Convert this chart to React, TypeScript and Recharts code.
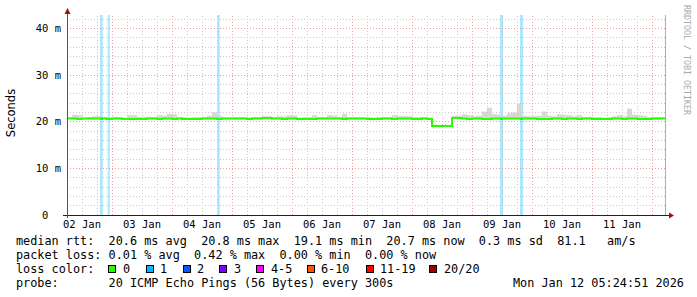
import React from 'react';
import { ComposedChart, Area, Line, XAxis, YAxis, ReferenceLine, ReferenceArea } from 'recharts';

// hours since the left edge of the graph (Jan 02 ~06:00), 2.5 px per hour
const dayLabels = ['02 Jan', '03 Jan', '04 Jan', '05 Jan', '06 Jan', '07 Jan', '08 Jan', '09 Jan', '10 Jan', '11 Jan'];
const labelHours = [6, 30, 54, 78, 102, 126, 150, 174, 198, 222];
const midnightHours = [18, 42, 66, 90, 114, 138, 162, 186, 210, 234];
const yTicks = [0, 10, 20, 30, 40];
const endHour = 239.2;
const yMax = 42.9;

// median rtt per 2 hour bin (ms)
const medianMs = [
  20.7, 20.7, 20.6, 20.7, 20.7, 20.7, 20.7, 20.7, 20.6, 20.7,
  20.7, 20.6, 20.6, 20.6, 20.6, 20.6, 20.7, 20.7, 20.6, 20.7,
  20.7, 20.6, 20.7, 20.6, 20.6, 20.6, 20.6, 20.7, 20.7, 20.7,
  20.6, 20.7, 20.7, 20.7, 20.7, 20.7, 20.6, 20.7, 20.7, 20.8,
  20.8, 20.7, 20.7, 20.6, 20.7, 20.7, 20.6, 20.6, 20.6, 20.6,
  20.7, 20.7, 20.7, 20.7, 20.7, 20.6, 20.7, 20.7, 20.7, 20.7,
  20.6, 20.6, 20.6, 20.7, 20.7, 20.6, 20.7, 20.7, 20.7, 20.6,
  20.6, 20.7, 20.6, 19.1, 19.1, 19.1, 19.1, 20.8, 20.8, 20.7,
  20.6, 20.7, 20.7, 20.6, 20.6, 20.7, 20.7, 20.7, 20.7, 20.7,
  20.7, 20.7, 20.7, 20.7, 20.6, 20.6, 20.6, 20.7, 20.7, 20.6,
  20.7, 20.7, 20.6, 20.7, 20.7, 20.6, 20.6, 20.6, 20.6, 20.7,
  20.7, 20.6, 20.7, 20.7, 20.6, 20.6, 20.6, 20.7, 20.7, 20.7,
];

// top of the smoke (slowest pings) per 2 hour bin (ms)
const smokeTopMs = [
  21.0, 21.5, 21.4, 20.9, 21.0, 21.2, 21.2, 21.0, 20.9, 21.0,
  21.0, 20.9, 21.4, 21.4, 21.1, 21.1, 21.1, 21.0, 21.4, 21.3,
  21.7, 21.6, 21.0, 21.0, 20.9, 21.0, 21.0, 21.0, 21.3, 22.0,
  21.3, 21.0, 20.9, 21.0, 21.0, 21.0, 20.9, 21.0, 21.0, 21.2,
  21.2, 21.0, 21.2, 21.2, 21.4, 21.3, 20.9, 21.0, 21.0, 21.4,
  21.0, 21.0, 21.4, 21.3, 21.0, 21.7, 21.0, 21.0, 21.0, 20.9,
  21.0, 20.9, 21.0, 21.0, 21.0, 21.4, 21.2, 21.2, 21.2, 21.0,
  21.0, 21.0, 20.9, 19.4, 19.3, 19.4, 19.3, 21.3, 21.3, 21.6,
  21.4, 21.2, 21.3, 22.2, 23.0, 21.6, 21.5, 21.3, 21.8, 22.0,
  23.9, 21.3, 21.2, 21.2, 21.3, 22.2, 21.3, 21.2, 21.6, 21.5,
  21.4, 21.2, 21.4, 21.0, 21.1, 21.0, 21.0, 20.9, 21.0, 21.2,
  21.4, 21.2, 22.8, 21.5, 21.4, 21.3, 21.0, 21.0, 21.0, 21.0,
];

// periods with 1/20 packet loss (start hour, end hour)
const lossWindows = [
  [13.2, 14.3],
  [16.3, 17.1],
  [60.1, 61.1],
  [173.2, 174.4],
  [181.2, 182.4],
];

const lossLegend = [
  { label: '0', color: '#26ff00', box: 108, text: 123 },
  { label: '1', color: '#00b8ff', box: 146, text: 160 },
  { label: '2', color: '#0059ff', box: 183, text: 197 },
  { label: '3', color: '#7e00ff', box: 219, text: 234 },
  { label: '4-5', color: '#ff00ff', box: 256, text: 271 },
  { label: '6-10', color: '#ff5500', box: 307, text: 321 },
  { label: '11-19', color: '#ff0000', box: 366, text: 380 },
  { label: '20/20', color: '#a10000', box: 429, text: 444 },
];

const rttLine = 'median rtt:  20.6 ms avg  20.8 ms max  19.1 ms min  20.7 ms now  0.3 ms sd  81.1   am/s';
const lossLine = 'packet loss: 0.01 % avg  0.42 % max  0.00 % min  0.00 % now';
const probeLine = 'probe:       20 ICMP Echo Pings (56 Bytes) every 300s';
const stamp = 'Mon Jan 12 05:24:51 2026';

const data = medianMs.map((m, i) => ({ h: i * 2, median: m, smoke: [m, smokeTopMs[i]] }));
data.push({ h: endHour, median: medianMs[medianMs.length - 1], smoke: [medianMs[medianMs.length - 1], smokeTopMs[smokeTopMs.length - 1]] });

const minorX = Array.from({ length: 40 }, (_, k) => k * 6).filter(h => h > 0 && !midnightHours.includes(h));
const minorY = Array.from({ length: 21 }, (_, k) => (k + 1) * 2).filter(v => v % 10 !== 0);

const mono = 'DejaVu Sans Mono';
const pre = (s: string) => s.replace(/ /g, '\u00a0');

export default function App() {
  return (
    <div style={{ position: 'absolute', left: 0, top: 0, width: 697, height: 297, background: '#fff' }}>
      <ComposedChart width={697} height={297} data={data} margin={{ top: 15, right: 32, bottom: 52, left: 7 }}>
        <XAxis
          type="number"
          dataKey="h"
          domain={[0, endHour]}
          ticks={labelHours}
          interval={0}
          tickFormatter={(v: number) => dayLabels[labelHours.indexOf(v)]}
          axisLine={false}
          tickLine={false}
          tickSize={0}
          tickMargin={6}
          height={30}
          allowDataOverflow
          tick={{ fill: '#000', fontSize: 10.5, fontFamily: mono }}
        />
        <YAxis
          type="number"
          domain={[0, yMax]}
          ticks={yTicks}
          interval={0}
          tickFormatter={(v: number) => (v === 0 ? '0\u00a0\u00a0' : `${v}\u00a0m`)}
          axisLine={false}
          tickLine={false}
          tickSize={0}
          tickMargin={6}
          width={60}
          allowDataOverflow
          tick={{ fill: '#000', fontSize: 10.5, fontFamily: mono }}
        />
        {minorX.map(h => (
          <ReferenceLine key={'mx' + h} x={h} stroke="#c8c8c8" strokeDasharray="1 2" shapeRendering="crispEdges" />
        ))}
        {minorY.map(v => (
          <ReferenceLine key={'my' + v} y={v} stroke="#c8c8c8" strokeDasharray="1 2" shapeRendering="crispEdges" />
        ))}
        {midnightHours.map(h => (
          <ReferenceLine key={'Mx' + h} x={h} stroke="#e8a0a0" strokeDasharray="1 2" shapeRendering="crispEdges" />
        ))}
        {yTicks.filter(v => v > 0).map(v => (
          <ReferenceLine key={'My' + v} y={v} stroke="#e8a0a0" strokeDasharray="1 2" shapeRendering="crispEdges" />
        ))}
        {lossWindows.map(([s, e]) => (
          <ReferenceArea key={'lb' + s} x1={s} x2={e} y1={0} y2={yMax} fill="#00b8ff" fillOpacity={0.33} stroke="none" />
        ))}
        <Area
          dataKey="smoke"
          type="stepAfter"
          stroke="none"
          fill="#d8d8d8"
          fillOpacity={1}
          isAnimationActive={false}
        />
        <Line
          dataKey="median"
          type="stepAfter"
          stroke="#26ff00"
          strokeWidth={2}
          dot={false}
          activeDot={false}
          isAnimationActive={false}
        />
        {lossWindows.map(([s, e]) => (
          <ReferenceArea key={'lm' + s} x1={s} x2={e} y1={20.4} y2={20.85} fill="#00b8ff" fillOpacity={1} stroke="none" />
        ))}
      </ComposedChart>
      <svg width={697} height={297} style={{ position: 'absolute', left: 0, top: 0, pointerEvents: 'none' }}>
        <line x1={665.5} y1={15} x2={665.5} y2={215} stroke="#b4ae9c" strokeWidth={1} />
        <line x1={63} y1={215.5} x2={669} y2={215.5} stroke="#222" strokeWidth={1} />
        <line x1={67.5} y1={218} x2={67.5} y2={13} stroke="#555" strokeWidth={1} />
        <polygon points="64.5,14 70.5,14 67.5,8" fill="#a01010" />
        <polygon points="669,212.5 669,218.5 674,215.5" fill="#a01010" />
        <text
          x={0}
          y={0}
          transform="translate(15,113) rotate(-90)"
          textAnchor="middle"
          fontFamily="DejaVu Sans"
          fontSize={11.5}
          fill="#000"
        >
          Seconds
        </text>
        <text
          x={0}
          y={0}
          transform="translate(684,5) rotate(90)"
          fontFamily={mono}
          fontSize={8.3}
          fill="#aaa"
        >
          {pre('RRDTOOL / TOBI OETIKER')}
        </text>
        <g fontFamily={mono} fontSize={11.83} fill="#000">
          <text x={16} y={245}>{pre(rttLine)}</text>
          <text x={16} y={259}>{pre(lossLine)}</text>
          <text x={16} y={273}>{pre('loss color:')}</text>
          {lossLegend.map(l => (
            <g key={l.label}>
              <rect x={l.box + 0.5} y={265.5} width={7} height={7} fill={l.color} stroke="#000" strokeWidth={1} />
              <text x={l.text} y={273}>{l.label}</text>
            </g>
          ))}
          <text x={16} y={287}>{pre(probeLine)}</text>
          <text x={513} y={287}>{stamp}</text>
        </g>
      </svg>
    </div>
  );
}
